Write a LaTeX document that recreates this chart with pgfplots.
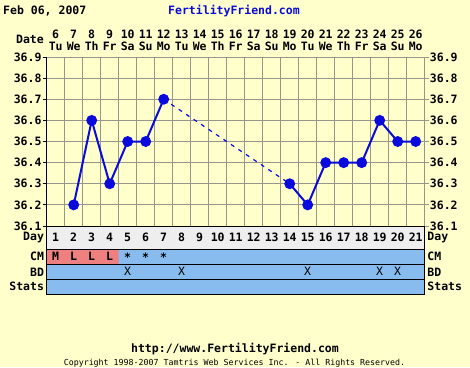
\documentclass[border=0pt]{standalone}
\usepackage{pgfplots}
\pgfplotsset{compat=1.18}
\usepackage{fontspec}
\newfontfamily\pix{DejaVu Sans Mono}
\definecolor{bg}{RGB}{255,255,204}
\definecolor{gridc}{RGB}{150,150,140}
\definecolor{ffblue}{RGB}{10,10,220}
\definecolor{rowblue}{RGB}{136,187,238}
\definecolor{daygray}{RGB}{238,238,238}
\definecolor{pinkc}{RGB}{238,128,128}
\newcommand{\bigf}{\pix\bfseries\fontsize{11.5}{12.6}\selectfont}
\pgfplotsset{ffbase/.style={scale only axis, width=378pt, xmin=0.5, xmax=21.5,
  /pgf/number format/assume math mode=true,
  /pgf/number format/fixed, /pgf/number format/fixed zerofill, /pgf/number format/precision=1,
  ticklabel style={font=\bigf},
  axis line style={draw=black, line width=1pt}}}
\begin{document}
\begin{tikzpicture}
\fill[bg] (0,0) rectangle (470pt,-367pt);
\path[use as bounding box] (0,0) rectangle (470pt,-367pt);
% header
\node[anchor=base west, inner sep=0pt, font=\bigf] at (3pt,-14pt) {Feb 06, 2007};
\node[anchor=base, inner sep=0pt, font=\bigf, text=ffblue] at (234pt,-14pt) {FertilityFriend.com};
\node[anchor=base east, inner sep=0pt, font=\bigf] at (44pt,-43pt) {Date};
% main chart (grey frame, right labels)
\begin{axis}[ffbase, at={(46.7pt,-226pt)}, anchor=south west, height=169pt,
  ymin=36.1, ymax=36.9,
  axis line style={draw=gridc, line width=1pt},
  ytick={36.1,36.2,36.3,36.4,36.5,36.6,36.7,36.8,36.9},
  yticklabel style={inner sep=0pt, xshift=1pt},
  yticklabel pos=right, ytick pos=right,
  xtick={1,...,21},
  xticklabels={{6\\Tu},{7\\We},{8\\Th},{9\\Fr},{10\\Sa},{11\\Su},{12\\Mo},{13\\Tu},{14\\We},{15\\Th},{16\\Fr},{17\\Sa},{18\\Su},{19\\Mo},{20\\Tu},{21\\We},{22\\Th},{23\\Fr},{24\\Sa},{25\\Su},{26\\Mo}},
  xticklabel pos=upper, xtick pos=upper,
  xticklabel style={align=center, inner sep=0pt, yshift=2pt},
  minor xtick={0.5,1.5,...,21.5},
  xminorgrids=true, ymajorgrids=true, xmajorgrids=false,
  major x tick style={draw=none},
  minor x tick style={draw=none},
  major tick length=4pt, tick align=outside,
  ytick style={gridc, line width=1pt},
  grid style={gridc, line width=1pt},
  ]
\addplot[ffblue, line width=2pt, mark=*, mark size=4.4pt, mark options={solid}] coordinates {(2,36.2)(3,36.6)(4,36.3)(5,36.5)(6,36.5)(7,36.7)};
\addplot[ffblue, line width=1.2pt, dash pattern=on 4pt off 5pt] coordinates {(7,36.7)(14,36.3)};
\addplot[ffblue, line width=2pt, mark=*, mark size=4.4pt, mark options={solid}] coordinates {(14,36.3)(15,36.2)(16,36.4)(17,36.4)(18,36.4)(19,36.6)(20,36.5)(21,36.5)};
\end{axis}
% left black axis line and labels
\begin{axis}[ffbase, at={(46.7pt,-226pt)}, anchor=south west, height=169pt,
  ymin=36.1, ymax=36.9, axis x line=none, axis y line*=left,
  ytick={36.1,36.2,36.3,36.4,36.5,36.6,36.7,36.8,36.9},
  yticklabel style={inner sep=0pt, xshift=-1pt},
  major tick length=4pt, tick align=outside,
  ytick style={black, line width=1pt}]
\end{axis}
% table
\begin{axis}[ffbase, at={(46.7pt,-294.3pt)}, anchor=south west, height=68.3pt,
  ymin=0, ymax=68.3, axis on top,
  xtick=\empty, minor xtick={0.5,1.5,...,21.5}, xminorgrids=true,
  minor x grid style={gridc, line width=1pt},
  ytick={7.5,22.5,37.5,56.65}, yticklabels={Stats,BD,CM,Day},
  minor ytick={15,30,45}, yminorgrids=true,
  minor y grid style={black, line width=1pt},
  major tick length=0pt, minor tick length=0pt,
  yticklabel style={inner sep=0pt, xshift=-2.5pt},
  ]
\addplot[fill=rowblue, draw=none] coordinates {(0.5,0)(21.5,0)(21.5,45)(0.5,45)(0.5,0)};
\addplot[fill=daygray, draw=none] coordinates {(0.5,45)(21.5,45)(21.5,68.3)(0.5,68.3)(0.5,45)};
\addplot[fill=pinkc, draw=none] coordinates {(0.5,30)(4.5,30)(4.5,45)(0.5,45)(0.5,30)};
\addplot[draw=none, mark=none, nodes near coords, point meta=explicit symbolic,
  nodes near coords align={center},
  every node near coord/.append style={anchor=center, inner sep=0pt, font=\bigf}]
  table[meta=t, row sep=\\] {x y t\\
  1 56.65 1\\ 2 56.65 2\\ 3 56.65 3\\ 4 56.65 4\\ 5 56.65 5\\ 6 56.65 6\\ 7 56.65 7\\
  8 56.65 8\\ 9 56.65 9\\ 10 56.65 10\\ 11 56.65 11\\ 12 56.65 12\\ 13 56.65 13\\ 14 56.65 14\\
  15 56.65 15\\ 16 56.65 16\\ 17 56.65 17\\ 18 56.65 18\\ 19 56.65 19\\ 20 56.65 20\\ 21 56.65 21\\
  1 37.5 M\\ 2 37.5 L\\ 3 37.5 L\\ 4 37.5 L\\ 5 37.5 *\\ 6 37.5 *\\ 7 37.5 *\\
  };
\addplot[draw=none, mark=none, nodes near coords, point meta=explicit symbolic,
  nodes near coords align={center},
  every node near coord/.append style={anchor=center, inner sep=0pt, font=\pix\fontsize{11.5}{12.6}\selectfont}]
  table[meta=t, row sep=\\] {x y t\\
  5 22.5 X\\ 8 22.5 X\\ 15 22.5 X\\ 19 22.5 X\\ 20 22.5 X\\
  };
\end{axis}
\begin{axis}[ffbase, at={(46.7pt,-294.3pt)}, anchor=south west, height=68.3pt,
  ymin=0, ymax=68.3, xtick=\empty,
  ytick={7.5,22.5,37.5,56.65}, yticklabels={Stats,BD,CM,Day},
  yticklabel pos=right, major tick length=0pt,
  yticklabel style={inner sep=0pt, xshift=2.5pt}]
\end{axis}
% footer
\node[anchor=base, inner sep=0pt, font=\bigf] at (235pt,-352pt) {http://www.FertilityFriend.com};
\node[anchor=base, inner sep=0pt, font=\pix\fontsize{8.3}{9}\selectfont] at (234.5pt,-365.5pt) {Copyright 1998-2007 Tamtris Web Services Inc. - All Rights Reserved.};
\end{tikzpicture}
\end{document}
